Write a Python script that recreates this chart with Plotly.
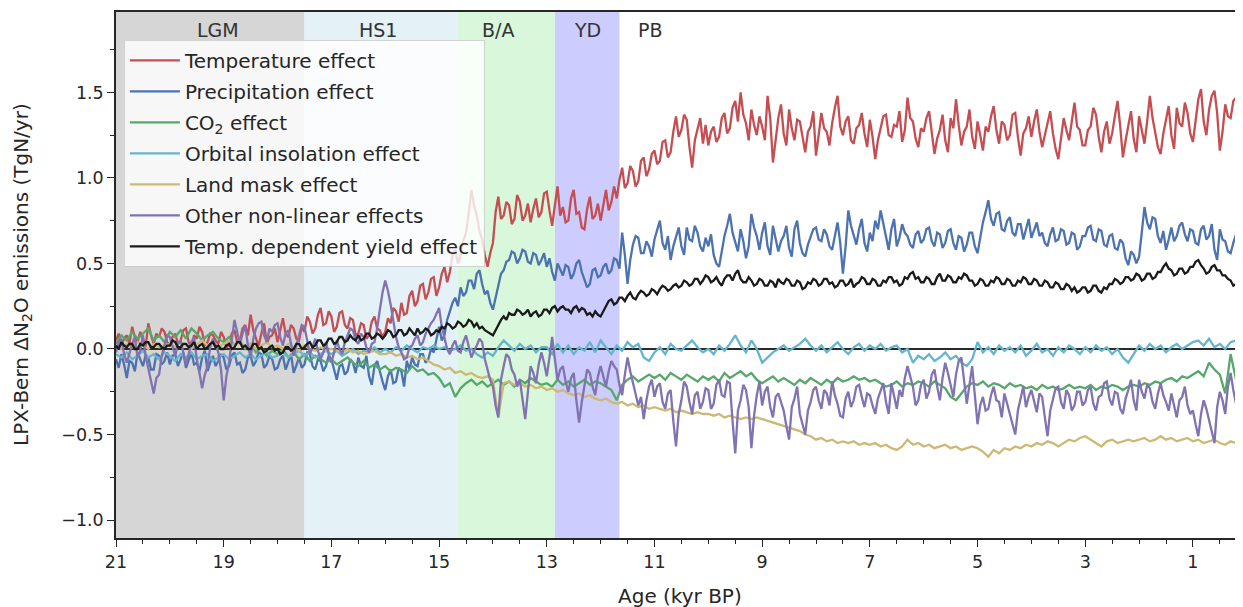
import plotly.graph_objects as go

# Values.
# Noisy series sampled every 0.05 kyr (21.0 -> 0.0 kyr BP), smooth ones every 0.1 kyr.

TEMP = [
    0.05, 0.09, 0.02, 0.06, 0.08, 0.03, 0.13, 0.07, 0.04, 0.10, 0.06, 0.01, 0.15, 0.08, 0.03, 0.09, 0.07, 0.12, 0.10, 0.04,
    0.02, 0.07, 0.09, 0.03, 0.05, 0.11, 0.12, 0.04, 0.01, 0.08, 0.06, 0.13, 0.10, 0.02, 0.04, 0.09, 0.08, 0.05, 0.03, 0.10,
    0.07, 0.01, 0.02, 0.09, 0.11, 0.04, 0.05, 0.12, 0.14, 0.08, 0.20, 0.11, 0.06, 0.02, 0.09, 0.15, 0.03, 0.07, 0.08, 0.12,
    0.04, 0.11, 0.18, 0.09, 0.07, 0.14, 0.12, 0.06, 0.05, 0.13, 0.10, 0.19, 0.16, 0.09, 0.12, 0.20, 0.24, 0.14, 0.15, 0.22,
    0.19, 0.10, 0.13, 0.21, 0.22, 0.14, 0.12, 0.18, 0.17, 0.08, 0.09, 0.15, 0.14, 0.06, 0.08, 0.16, 0.19, 0.12, 0.11, 0.07,
    0.10, 0.18, 0.15, 0.24, 0.22, 0.16, 0.27, 0.20, 0.21, 0.31, 0.34, 0.25, 0.28, 0.37, 0.38, 0.29, 0.33, 0.41, 0.42, 0.31,
    0.36, 0.44, 0.48, 0.39, 0.45, 0.55, 0.58, 0.50, 0.55, 0.63, 0.68, 0.79, 0.93, 0.84, 0.78, 0.69, 0.64, 0.55, 0.48, 0.56,
    0.62, 0.80, 0.89, 0.76, 0.78, 0.86, 0.84, 0.73, 0.76, 0.90, 0.86, 0.75, 0.78, 0.85, 0.74, 0.82, 0.88, 0.77, 0.80, 0.91,
    0.92, 0.81, 0.72, 0.84, 0.95, 0.78, 0.83, 0.74, 0.75, 0.88, 0.93, 0.79, 0.80, 0.71, 0.70, 0.82, 0.89, 0.76, 0.78, 0.85,
    0.75, 0.84, 0.93, 0.81, 0.86, 0.95, 0.88, 0.99, 1.06, 0.94, 0.97, 1.07, 1.04, 0.95, 0.98, 1.10, 1.12, 1.01, 1.05, 1.14,
    1.16, 1.08, 1.10, 1.21, 1.22, 1.12, 1.15, 1.27, 1.36, 1.24, 1.28, 1.37, 1.34, 1.18, 1.06, 1.22, 1.28, 1.35, 1.20, 1.31,
    1.19, 1.27, 1.30, 1.21, 1.24, 1.35, 1.38, 1.26, 1.29, 1.41, 1.45, 1.33, 1.50, 1.37, 1.32, 1.22, 1.40, 1.31, 1.25, 1.36,
    1.30, 1.22, 1.48, 1.35, 1.09, 1.24, 1.35, 1.43, 1.26, 1.19, 1.40, 1.29, 1.22, 1.34, 1.33, 1.24, 1.15, 1.27, 1.30, 1.39,
    1.13, 1.25, 1.38, 1.29, 1.27, 1.19, 1.32, 1.41, 1.48, 1.30, 1.25, 1.33, 1.36, 1.22, 1.20, 1.29, 1.31, 1.38, 1.26, 1.18,
    1.34, 1.24, 1.11, 1.22, 1.29, 1.36, 1.37, 1.25, 1.24, 1.31, 1.30, 1.39, 1.21, 1.28, 1.47, 1.35, 1.33, 1.23, 1.18, 1.29,
    1.27, 1.35, 1.39, 1.26, 1.14, 1.23, 1.28, 1.37, 1.22, 1.15, 1.35, 1.29, 1.46, 1.31, 1.19, 1.27, 1.30, 1.40, 1.24, 1.17,
    1.33, 1.25, 1.16, 1.30, 1.27, 1.36, 1.42, 1.28, 1.20, 1.33, 1.31, 1.22, 1.25, 1.37, 1.38, 1.24, 1.13, 1.26, 1.29, 1.36,
    1.24, 1.33, 1.40, 1.27, 1.18, 1.25, 1.32, 1.39, 1.26, 1.17, 1.11, 1.24, 1.35, 1.28, 1.22, 1.33, 1.44, 1.30, 1.28, 1.19,
    1.19, 1.28, 1.30, 1.41, 1.37, 1.24, 1.15, 1.27, 1.33, 1.20, 1.26, 1.36, 1.45, 1.30, 1.12, 1.22, 1.31, 1.39, 1.23, 1.15,
    1.36, 1.28, 1.20, 1.33, 1.48, 1.35, 1.27, 1.18, 1.14, 1.26, 1.34, 1.42, 1.25, 1.17, 1.41, 1.32, 1.30, 1.44, 1.38, 1.26,
    1.21, 1.35, 1.46, 1.52, 1.33, 1.25, 1.40, 1.48, 1.51, 1.38, 1.16, 1.27, 1.43, 1.36, 1.35, 1.45, 1.47, 1.30, 1.32, 1.42,
    1.40,
]

PRECIP = [
    -0.06, -0.11, -0.03, -0.09, -0.17, -0.07, -0.08, -0.13, -0.02, -0.06, -0.10, -0.04, -0.05, -0.12, -0.12, -0.03, -0.04, -0.09, -0.07, -0.02,
    -0.09, -0.04, -0.03, -0.10, -0.06, -0.02, -0.11, -0.07, -0.02, -0.09, -0.08, -0.13, -0.05, -0.01, -0.13, -0.08, -0.04, -0.10, -0.07, -0.03,
    -0.05, -0.12, -0.10, -0.04, -0.02, -0.09, -0.08, -0.14, -0.12, -0.05, -0.04, -0.10, -0.07, -0.02, -0.03, -0.11, -0.09, -0.04, -0.06, -0.12,
    -0.11, -0.06, -0.04, -0.12, -0.08, -0.03, -0.14, -0.09, -0.05, -0.11, -0.09, -0.02, -0.03, -0.10, -0.12, -0.06, -0.07, -0.13, -0.10, -0.04,
    -0.06, -0.12, -0.18, -0.10, -0.09, -0.15, -0.13, -0.06, -0.08, -0.14, -0.05, -0.10, -0.11, -0.04, -0.16, -0.21, -0.10, -0.07, -0.14, -0.19,
    -0.24, -0.16, -0.12, -0.20, -0.19, -0.11, -0.13, -0.22, -0.07, -0.12, -0.05, -0.09, -0.10, -0.03, -0.03, -0.08, -0.06, 0.00, -0.02, 0.05,
    0.13, 0.05, 0.08, 0.17, 0.22, 0.27, 0.30, 0.25, 0.36, 0.31, 0.33, 0.40, 0.40, 0.35, 0.44, 0.46, 0.38, 0.32, 0.34, 0.27,
    0.23, 0.30, 0.38, 0.44, 0.46, 0.51, 0.52, 0.57, 0.56, 0.50, 0.53, 0.58, 0.57, 0.51, 0.50, 0.56, 0.55, 0.49, 0.52, 0.56,
    0.48, 0.53, 0.45, 0.40, 0.50, 0.46, 0.43, 0.49, 0.48, 0.41, 0.44, 0.50, 0.52, 0.45, 0.41, 0.36, 0.38, 0.46, 0.47, 0.42,
    0.43, 0.48, 0.50, 0.44, 0.46, 0.53, 0.52, 0.47, 0.68, 0.55, 0.38, 0.52, 0.61, 0.66, 0.65, 0.56, 0.56, 0.63, 0.60, 0.54,
    0.64, 0.69, 0.75, 0.62, 0.58, 0.66, 0.52, 0.60, 0.66, 0.71, 0.60, 0.55, 0.71, 0.64, 0.63, 0.72, 0.68, 0.60, 0.57, 0.65,
    0.60, 0.67, 0.55, 0.50, 0.48, 0.58, 0.66, 0.72, 0.79, 0.68, 0.62, 0.57, 0.70, 0.63, 0.53, 0.60, 0.79, 0.71, 0.66, 0.58,
    0.68, 0.74, 0.60, 0.55, 0.72, 0.65, 0.57, 0.63, 0.66, 0.72, 0.59, 0.54, 0.70, 0.75, 0.62, 0.56, 0.54, 0.61, 0.65, 0.70,
    0.71, 0.64, 0.63, 0.70, 0.67, 0.60, 0.58, 0.66, 0.74, 0.62, 0.44, 0.60, 0.81, 0.72, 0.66, 0.61, 0.70, 0.76, 0.62, 0.57,
    0.68, 0.63, 0.75, 0.70, 0.81, 0.73, 0.64, 0.58, 0.70, 0.76, 0.60, 0.65, 0.73, 0.68, 0.66, 0.61, 0.59, 0.67, 0.69, 0.62,
    0.64, 0.70, 0.71, 0.63, 0.60, 0.68, 0.67, 0.59, 0.62, 0.69, 0.70, 0.62, 0.58, 0.66, 0.65, 0.57, 0.61, 0.68, 0.68, 0.60,
    0.56, 0.65, 0.74, 0.80, 0.87, 0.76, 0.72, 0.79, 0.80, 0.70, 0.69, 0.75, 0.77, 0.68, 0.66, 0.73, 0.73, 0.64, 0.70, 0.76,
    0.65, 0.70, 0.74, 0.66, 0.68, 0.62, 0.60, 0.67, 0.71, 0.63, 0.64, 0.70, 0.69, 0.61, 0.62, 0.68, 0.67, 0.58, 0.60, 0.66,
    0.66, 0.71, 0.72, 0.64, 0.63, 0.70, 0.69, 0.61, 0.60, 0.66, 0.67, 0.59, 0.58, 0.64, 0.62, 0.53, 0.49, 0.57, 0.55, 0.50,
    0.54, 0.68, 0.83, 0.74, 0.70, 0.77, 0.76, 0.66, 0.62, 0.69, 0.58, 0.64, 0.71, 0.63, 0.66, 0.72, 0.74, 0.67, 0.63, 0.70,
    0.69, 0.62, 0.61, 0.70, 0.72, 0.64, 0.66, 0.73, 0.58, 0.52, 0.70, 0.64, 0.63, 0.57, 0.56, 0.62, 0.67, 0.74, 0.72, 0.65,
    0.66,
]

CO2 = [
    0.03, 0.08, 0.05, 0.10, 0.06, 0.09, 0.12, 0.05, 0.08, 0.04,
    0.10, 0.07, 0.11, 0.06, 0.12, 0.09, 0.05, 0.08, 0.10, 0.06,
    0.04, 0.07, 0.02, 0.05, 0.00, 0.03, -0.02, 0.01, -0.04, -0.01,
    -0.03, 0.00, -0.05, -0.02, -0.06, -0.03, -0.07, -0.04, -0.06, -0.08,
    -0.06, -0.09, -0.07, -0.05, -0.08, -0.10, -0.07, -0.11, -0.09, -0.12,
    -0.10, -0.13, -0.11, -0.12, -0.14, -0.10, -0.13, -0.12, -0.15, -0.14,
    -0.17, -0.22, -0.20, -0.28, -0.23, -0.20, -0.18, -0.21, -0.19, -0.22,
    -0.20, -0.18, -0.21, -0.19, -0.22, -0.18, -0.20, -0.17, -0.19, -0.21,
    -0.20, -0.22, -0.18, -0.21, -0.19, -0.22, -0.20, -0.18, -0.21, -0.19,
    -0.20, -0.22, -0.24, -0.30, -0.21, -0.18, -0.16, -0.19, -0.17, -0.15,
    -0.17, -0.15, -0.18, -0.14, -0.16, -0.18, -0.15, -0.17, -0.19, -0.16,
    -0.18, -0.16, -0.19, -0.14, -0.17, -0.15, -0.13, -0.16, -0.14, -0.18,
    -0.20, -0.18, -0.16, -0.19, -0.17, -0.19, -0.21, -0.18, -0.20, -0.17,
    -0.19, -0.21, -0.18, -0.20, -0.17, -0.19, -0.18, -0.16, -0.18, -0.17,
    -0.19, -0.18, -0.20, -0.22, -0.21, -0.19, -0.22, -0.20, -0.21, -0.19,
    -0.20, -0.22, -0.19, -0.21, -0.23, -0.28, -0.30, -0.26, -0.22, -0.20,
    -0.21, -0.19, -0.22, -0.20, -0.21, -0.23, -0.20, -0.22, -0.21, -0.23,
    -0.22, -0.24, -0.21, -0.23, -0.22, -0.24, -0.23, -0.21, -0.23, -0.22,
    -0.23, -0.21, -0.24, -0.22, -0.23, -0.21, -0.22, -0.24, -0.22, -0.21,
    -0.22, -0.20, -0.21, -0.19, -0.20, -0.18, -0.17, -0.19, -0.16, -0.17,
    -0.15, -0.13, -0.16, -0.08, -0.12, -0.15, -0.26, -0.03, -0.18, -0.22,
    -0.19,
]

ORBITAL = [
    -0.03, -0.05, -0.02, -0.06, -0.04, -0.01, -0.05, -0.03, -0.06, -0.02,
    -0.04, -0.07, -0.03, -0.05, -0.02, -0.06, -0.04, -0.03, -0.07, -0.05,
    -0.03, -0.06, -0.04, -0.02, -0.05, -0.03, -0.06, -0.04, -0.02, -0.05,
    -0.04, -0.02, -0.05, -0.03, -0.01, -0.04, -0.02, -0.05, -0.03, -0.01,
    -0.03, -0.01, -0.04, -0.02, 0.00, -0.03, -0.01, -0.02, 0.01, -0.02,
    0.00, -0.02, 0.01, -0.01, 0.02, 0.00, -0.02, 0.01, 0.00, 0.02,
    0.00, 0.01, -0.01, 0.00, 0.02, -0.01, 0.00, -0.03, -0.05, -0.02,
    -0.04, 0.01, 0.05, 0.02, -0.01, 0.03, 0.00, 0.02, -0.02, 0.01,
    0.01, -0.03, 0.03, -0.02, 0.02, -0.03, 0.01, -0.01, 0.04, -0.02,
    0.05, 0.01, -0.03, 0.02, -0.01, 0.04, 0.01, 0.03, -0.05, -0.07,
    -0.02, 0.01, -0.03, 0.03, 0.00, -0.01, 0.02, 0.05, 0.01, -0.02,
    0.00, -0.03, 0.02, -0.01, 0.03, 0.08, 0.02, -0.02, 0.05, 0.00,
    -0.08, -0.05, -0.02, 0.00, 0.02, -0.01, 0.01, 0.03, 0.06, 0.02,
    -0.01, 0.02, -0.02, 0.01, 0.04, 0.00, -0.03, 0.01, 0.03, -0.01,
    0.02, 0.00, 0.03, -0.01, 0.01, 0.02, -0.02, 0.00, -0.08, -0.04,
    -0.06, -0.03, -0.07, -0.05, -0.02, -0.06, -0.04, -0.08, -0.10, -0.06,
    0.04, -0.02, 0.01, -0.03, 0.02, -0.01, 0.01, -0.02, 0.02, -0.04,
    -0.01, 0.03, -0.02, 0.00, -0.04, 0.01, -0.02, 0.02, 0.00, -0.03,
    0.01, -0.02, 0.02, -0.01, 0.01, -0.03, 0.00, -0.05, -0.08, -0.03,
    0.02, -0.01, 0.03, 0.00, 0.02, -0.02, 0.01, 0.03, 0.00, 0.02,
    0.04, 0.05, 0.02, 0.06, 0.01, 0.03, 0.00, 0.04, 0.05, 0.01,
    0.03,
]

LANDMASK = [
    0.02, 0.00, 0.03, 0.01, 0.04, 0.02, 0.00, 0.03, 0.01, 0.02,
    0.03, 0.01, 0.04, 0.02, 0.00, 0.03, 0.05, 0.02, 0.04, 0.01,
    0.03, 0.05, 0.02, 0.04, 0.01, 0.03, 0.00, 0.02, 0.04, 0.01,
    0.02, 0.00, 0.03, 0.01, -0.01, 0.02, 0.00, -0.01, 0.01, -0.01,
    0.00, -0.01, -0.02, 0.00, -0.02, -0.01, -0.03, -0.02, -0.01, -0.03,
    -0.03, -0.02, -0.04, -0.03, -0.05, -0.04, -0.06, -0.05, -0.07, -0.09,
    -0.10, -0.12, -0.11, -0.14, -0.13, -0.15, -0.14, -0.16, -0.17, -0.16,
    -0.18, -0.40, -0.20, -0.19, -0.21, -0.20, -0.22, -0.21, -0.23, -0.22,
    -0.24, -0.23, -0.25, -0.24, -0.26, -0.27, -0.26, -0.28, -0.27, -0.29,
    -0.30, -0.29, -0.31, -0.32, -0.31, -0.33, -0.32, -0.34, -0.33, -0.35,
    -0.34, -0.35, -0.36, -0.35, -0.37, -0.36, -0.37, -0.38, -0.37, -0.38,
    -0.38, -0.39, -0.38, -0.40, -0.39, -0.40, -0.41, -0.40, -0.41, -0.40,
    -0.41, -0.42, -0.43, -0.44, -0.45, -0.46, -0.47, -0.48, -0.50, -0.51,
    -0.53, -0.52, -0.54, -0.53, -0.55, -0.54, -0.55, -0.54, -0.56, -0.55,
    -0.56, -0.55, -0.57, -0.56, -0.58, -0.59, -0.57, -0.53, -0.56, -0.55,
    -0.57, -0.56, -0.58, -0.57, -0.56, -0.58, -0.57, -0.59, -0.58, -0.57,
    -0.58, -0.60, -0.63, -0.59, -0.61, -0.58, -0.59, -0.57, -0.58, -0.56,
    -0.57, -0.55, -0.56, -0.54, -0.55, -0.57, -0.55, -0.53, -0.54, -0.52,
    -0.51, -0.53, -0.55, -0.57, -0.54, -0.53, -0.55, -0.54, -0.53, -0.54,
    -0.53, -0.52, -0.54, -0.53, -0.51, -0.53, -0.52, -0.54, -0.53, -0.52,
    -0.54, -0.53, -0.55, -0.54, -0.53, -0.55, -0.56, -0.54, -0.55, -0.54,
    -0.55,
]

OTHER = [
    -0.02, 0.04, 0.06, -0.03, -0.08, -0.02, 0.03, 0.07, -0.05, -0.01, 0.08, -0.04, -0.12, -0.20, -0.26, -0.17, -0.15, -0.04, 0.02, 0.08,
    0.07, 0.01, -0.04, 0.03, 0.05, -0.02, -0.09, -0.03, 0.04, 0.07, -0.06, -0.14, -0.23, -0.15, -0.10, 0.01, 0.06, 0.02, -0.02, -0.12,
    -0.30, -0.16, -0.08, 0.05, 0.17, 0.10, 0.03, 0.09, 0.14, 0.02, -0.05, 0.06, 0.12, 0.15, 0.16, 0.08, 0.04, 0.12, 0.10, 0.14,
    0.15, 0.07, 0.02, 0.09, 0.11, 0.03, -0.04, 0.02, 0.08, 0.14, 0.13, 0.04, -0.03, 0.01, 0.06, -0.01, -0.06, -0.02, 0.04, -0.03,
    -0.08, -0.02, 0.05, 0.00, -0.03, 0.04, 0.08, 0.12, 0.11, 0.05, 0.03, 0.09, 0.07, 0.01, -0.02, 0.03, 0.04, 0.12, 0.23, 0.33,
    0.40, 0.34, 0.26, 0.15, 0.07, 0.01, -0.02, -0.06, -0.05, 0.01, 0.02, 0.06, 0.08, 0.02, 0.04, 0.09, 0.12, 0.15, 0.17, 0.21,
    0.24, 0.13, 0.06, 0.00, -0.03, 0.02, 0.05, -0.01, -0.02, 0.04, 0.08, 0.01, -0.05, -0.01, 0.02, 0.06, 0.04, -0.06, -0.13, -0.18,
    -0.22, -0.33, -0.40, -0.18, -0.10, -0.03, -0.05, -0.12, -0.15, -0.22, -0.18, -0.30, -0.41, -0.25, -0.10, -0.14, -0.20, -0.09, -0.02, -0.08,
    -0.16, -0.05, 0.07, -0.06, -0.18, -0.12, -0.10, -0.19, -0.25, -0.17, -0.14, -0.30, -0.43, -0.31, -0.20, -0.12, -0.14, -0.22, -0.27, -0.16,
    -0.10, -0.17, -0.22, -0.13, -0.07, -0.10, -0.12, -0.21, -0.27, -0.15, -0.05, -0.13, -0.20, -0.26, -0.33, -0.28, -0.41, -0.30, -0.22, -0.18,
    -0.28, -0.22, -0.20, -0.31, -0.35, -0.26, -0.24, -0.42, -0.57, -0.38, -0.30, -0.19, -0.22, -0.31, -0.38, -0.27, -0.25, -0.35, -0.31, -0.23,
    -0.24, -0.35, -0.32, -0.21, -0.18, -0.27, -0.28, -0.19, -0.20, -0.42, -0.61, -0.36, -0.30, -0.21, -0.24, -0.34, -0.58, -0.39, -0.27, -0.19,
    -0.33, -0.25, -0.22, -0.34, -0.40, -0.28, -0.26, -0.31, -0.36, -0.45, -0.53, -0.34, -0.29, -0.22, -0.38, -0.44, -0.50, -0.36, -0.31, -0.24,
    -0.22, -0.30, -0.35, -0.24, -0.26, -0.33, -0.19, -0.27, -0.32, -0.39, -0.40, -0.29, -0.25, -0.34, -0.30, -0.22, -0.21, -0.28, -0.34, -0.26,
    -0.27, -0.33, -0.38, -0.29, -0.24, -0.20, -0.31, -0.38, -0.20, -0.27, -0.35, -0.24, -0.28, -0.17, -0.10, -0.16, -0.22, -0.33, -0.30, -0.21,
    -0.18, -0.29, -0.25, -0.15, -0.12, -0.22, -0.30, -0.17, -0.08, -0.14, -0.22, -0.28, -0.15, -0.07, -0.05, -0.20, -0.32, -0.21, -0.10, -0.27,
    -0.44, -0.33, -0.28, -0.36, -0.35, -0.27, -0.22, -0.30, -0.31, -0.40, -0.26, -0.32, -0.38, -0.45, -0.50, -0.36, -0.29, -0.22, -0.34, -0.28,
    -0.24, -0.31, -0.37, -0.26, -0.28, -0.40, -0.51, -0.36, -0.30, -0.23, -0.22, -0.31, -0.35, -0.24, -0.27, -0.36, -0.33, -0.25, -0.25, -0.33,
    -0.31, -0.24, -0.22, -0.32, -0.36, -0.28, -0.27, -0.20, -0.19, -0.29, -0.33, -0.25, -0.26, -0.35, -0.38, -0.29, -0.24, -0.18, -0.30, -0.36,
    -0.18, -0.25, -0.29, -0.21, -0.23, -0.31, -0.35, -0.26, -0.20, -0.27, -0.31, -0.36, -0.26, -0.33, -0.40, -0.30, -0.28, -0.22, -0.33, -0.38,
    -0.36, -0.44, -0.51, -0.38, -0.30, -0.35, -0.42, -0.50, -0.55, -0.34, -0.25, -0.30, -0.38, -0.22, -0.14, -0.24, -0.33, -0.40, -0.27, -0.22,
    -0.35,
]

YIELD = [
    0.02, 0.00, 0.04, 0.02, 0.01, 0.03, 0.03, 0.00, 0.00, 0.03, 0.02, 0.04, 0.04, 0.01, 0.01, 0.03, 0.03, 0.01, 0.00, 0.02,
    0.02, 0.05, 0.04, 0.01, 0.01, 0.03, 0.03, 0.01, 0.02, 0.04, 0.00, 0.02, 0.03, 0.00, 0.01, 0.03, 0.04, 0.01, 0.02, 0.00,
    0.00, 0.02, 0.03, 0.00, 0.01, 0.04, 0.04, 0.01, 0.02, 0.00, 0.00, 0.03, 0.03, 0.00, 0.01, -0.02, -0.01, 0.01, 0.02, -0.01,
    0.00, -0.03, -0.02, 0.01, 0.01, -0.01, 0.00, 0.03, 0.03, 0.00, 0.01, 0.03, 0.04, 0.01, 0.02, 0.05, 0.05, 0.02, 0.03, 0.06,
    0.06, 0.03, 0.04, 0.07, 0.07, 0.04, 0.05, 0.08, 0.06, 0.05, 0.08, 0.05, 0.06, 0.09, 0.09, 0.06, 0.07, 0.09, 0.08, 0.06,
    0.08, 0.11, 0.10, 0.07, 0.08, 0.11, 0.11, 0.08, 0.09, 0.12, 0.10, 0.08, 0.12, 0.09, 0.10, 0.12, 0.11, 0.08, 0.09, 0.11,
    0.10, 0.13, 0.12, 0.15, 0.14, 0.12, 0.13, 0.16, 0.15, 0.13, 0.14, 0.17, 0.16, 0.13, 0.15, 0.12, 0.13, 0.11, 0.10, 0.09,
    0.08, 0.11, 0.14, 0.17, 0.19, 0.17, 0.21, 0.20, 0.20, 0.23, 0.22, 0.20, 0.21, 0.23, 0.19, 0.21, 0.22, 0.19, 0.20, 0.23,
    0.23, 0.21, 0.24, 0.25, 0.22, 0.24, 0.25, 0.23, 0.23, 0.21, 0.24, 0.25, 0.22, 0.24, 0.23, 0.20, 0.21, 0.19, 0.22, 0.20,
    0.19, 0.22, 0.25, 0.28, 0.29, 0.26, 0.27, 0.30, 0.30, 0.28, 0.31, 0.33, 0.30, 0.29, 0.32, 0.34, 0.33, 0.31, 0.32, 0.35,
    0.34, 0.32, 0.35, 0.37, 0.36, 0.34, 0.35, 0.37, 0.38, 0.36, 0.37, 0.40, 0.39, 0.37, 0.38, 0.41, 0.41, 0.38, 0.40, 0.43,
    0.42, 0.39, 0.40, 0.42, 0.39, 0.37, 0.41, 0.43, 0.43, 0.40, 0.44, 0.46, 0.41, 0.39, 0.39, 0.42, 0.40, 0.37, 0.38, 0.41,
    0.40, 0.37, 0.37, 0.40, 0.39, 0.36, 0.41, 0.39, 0.38, 0.41, 0.40, 0.37, 0.37, 0.40, 0.39, 0.35, 0.36, 0.39, 0.38, 0.41,
    0.40, 0.37, 0.38, 0.41, 0.41, 0.38, 0.39, 0.36, 0.37, 0.40, 0.40, 0.37, 0.38, 0.41, 0.36, 0.38, 0.39, 0.42, 0.41, 0.38,
    0.38, 0.41, 0.40, 0.37, 0.37, 0.40, 0.39, 0.42, 0.42, 0.39, 0.40, 0.37, 0.38, 0.42, 0.41, 0.44, 0.45, 0.41, 0.42, 0.39,
    0.39, 0.42, 0.41, 0.38, 0.38, 0.42, 0.44, 0.40, 0.40, 0.43, 0.42, 0.39, 0.39, 0.42, 0.41, 0.44, 0.43, 0.40, 0.40, 0.37,
    0.38, 0.41, 0.40, 0.37, 0.37, 0.40, 0.39, 0.42, 0.41, 0.38, 0.38, 0.41, 0.40, 0.37, 0.37, 0.40, 0.39, 0.42, 0.41, 0.38,
    0.38, 0.41, 0.40, 0.37, 0.37, 0.40, 0.39, 0.36, 0.36, 0.39, 0.38, 0.35, 0.35, 0.38, 0.37, 0.34, 0.36, 0.33, 0.34, 0.36,
    0.36, 0.33, 0.34, 0.37, 0.37, 0.34, 0.33, 0.36, 0.35, 0.38, 0.38, 0.41, 0.40, 0.38, 0.39, 0.42, 0.42, 0.40, 0.41, 0.44,
    0.43, 0.40, 0.41, 0.44, 0.44, 0.41, 0.42, 0.45, 0.45, 0.48, 0.50, 0.47, 0.46, 0.43, 0.44, 0.47, 0.47, 0.44, 0.45, 0.48,
    0.48, 0.51, 0.52, 0.49, 0.47, 0.44, 0.45, 0.48, 0.49, 0.46, 0.46, 0.43, 0.43, 0.41, 0.40, 0.37, 0.38, 0.41, 0.42, 0.45,
    0.44,
]

SERIES = [
    ("Temperature effect", TEMP, "#C44E52"),
    ("Precipitation effect", PRECIP, "#4C72B0"),
    ("CO<sub>2</sub> effect", CO2, "#55A868"),
    ("Orbital insolation effect", ORBITAL, "#64B5CD"),
    ("Land mask effect", LANDMASK, "#CCB974"),
    ("Other non-linear effects", OTHER, "#8172B2"),
    ("Temp. dependent yield effect", YIELD, "#1A1A1A"),
]

# Climate periods: (label, start, end, colour, label x position)
PERIODS = [
    ("LGM", 21.0, 17.5, "rgb(214,214,214)", 19.1),
    ("HS1", 17.5, 14.65, "rgb(228,241,247)", 16.13),
    ("B/A", 14.65, 12.85, "rgb(217,247,218)", 13.9),
    ("YD", 12.85, 11.65, "rgb(204,204,255)", 12.25),
    ("PB", 11.65, None, None, 11.08),
]

X_TICKS = [21, 19, 17, 15, 13, 11, 9, 7, 5, 3, 1]
Y_TICKS = [-1.0, -0.5, 0.0, 0.5, 1.0, 1.5]
Y_TICKTEXT = ["\u22121.0", "\u22120.5", "0.0", "0.5", "1.0", "1.5"]

FONT = "DejaVu Sans"
INK = "#262626"


def ages_for(n):
    # evenly spaced sampling ages from 21 kyr BP to present
    return [round(21.0 - 21.0 * i / (n - 1), 3) for i in range(n)]


fig = go.Figure()
for name, vals, col in SERIES:
    fig.add_trace(go.Scatter(x=ages_for(len(vals)), y=vals, mode="lines",
                             name=name, legendgroup=name,
                             line=dict(color=col, width=2.3)))

shapes = []
annotations = []
for label, x0, x1, col, xl in PERIODS:
    if col is not None:
        shapes.append(dict(type="rect", xref="x", yref="paper", x0=x0, x1=x1,
                           y0=0, y1=1, fillcolor=col, line=dict(width=0),
                           layer="below"))
    annotations.append(dict(x=xl, y=1.865, xref="x", yref="y", text=label,
                            showarrow=False,
                            font=dict(family=FONT, size=19, color="#333333")))
shapes.append(dict(type="line", xref="paper", yref="y", x0=0, x1=1, y0=0, y1=0,
                   line=dict(color="#2a2a2a", width=1.8), layer="below"))

# axis titles placed as annotations for exact positioning
annotations.append(dict(x=0.5, y=-0.110, xref="paper", yref="paper",
                        text="Age (kyr BP)", showarrow=False,
                        xanchor="center", yanchor="middle",
                        font=dict(family=FONT, size=20, color=INK)))
annotations.append(dict(x=-0.0834, y=0.5, xref="paper", yref="paper",
                        text="LPX-Bern \u0394N<sub>2</sub>O emissions (TgN/yr)",
                        textangle=-90, showarrow=False,
                        xanchor="center", yanchor="middle",
                        font=dict(family=FONT, size=20, color=INK)))

# The page body adds an 8px offset, so the figure is sized/margined to compensate.
fig.update_layout(
    width=1235, height=599,
    margin=dict(l=108, r=0, t=4, b=69),
    plot_bgcolor="white", paper_bgcolor="white",
    font=dict(family=FONT, color=INK),
    shapes=shapes, annotations=annotations,
    showlegend=True,
    legend=dict(x=0.007, y=0.947, xanchor="left", yanchor="top",
                bgcolor="rgba(255,255,255,0.8)",
                bordercolor="rgba(200,200,200,0.8)", borderwidth=1,
                itemwidth=50, tracegroupgap=2,
                font=dict(family=FONT, size=20, color=INK)),
)
fig.update_xaxes(
    range=[21, 0.07], tickmode="array", tickvals=X_TICKS,
    ticktext=[str(t) for t in X_TICKS], automargin=False,
    ticks="outside", ticklen=7, tickwidth=1.3, tickcolor=INK,
    showline=True, linecolor=INK, linewidth=1.5, mirror=True,
    showgrid=False, zeroline=False,
    tickfont=dict(family=FONT, size=17.5, color=INK),
    minor=dict(tickmode="linear", tick0=0, dtick=0.5, ticks="outside",
               ticklen=4, tickwidth=1.1, tickcolor=INK, showgrid=False),
)
fig.update_yaxes(
    range=[-1.105, 1.97], tickmode="array", tickvals=Y_TICKS,
    ticktext=Y_TICKTEXT, automargin=False,
    ticks="outside", ticklen=7, tickwidth=1.3, tickcolor=INK,
    showline=True, linecolor=INK, linewidth=1.5,
    showgrid=False, zeroline=False,
    tickfont=dict(family=FONT, size=17.5, color=INK),
    minor=dict(tickmode="linear", tick0=0, dtick=0.25, ticks="outside",
               ticklen=4, tickwidth=1.1, tickcolor=INK, showgrid=False),
)

fig.write_html("out.html")
